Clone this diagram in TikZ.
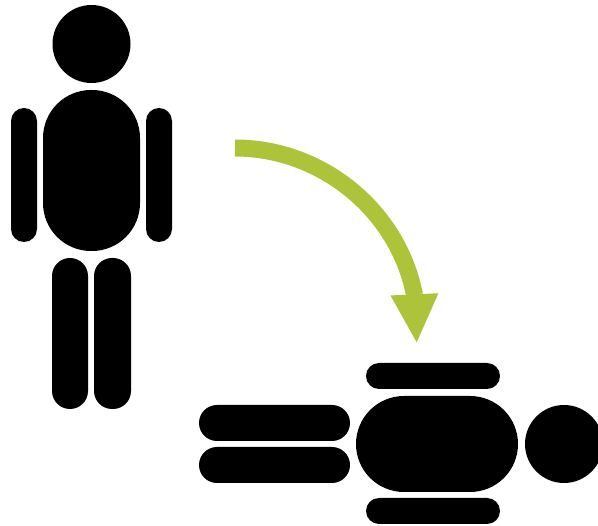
\documentclass[tikz,border=0pt]{standalone}
\usepackage{xcolor}
\usetikzlibrary{arrows.meta, positioning}
\definecolor{fallgreen}{RGB}{173,196,58}

\begin{document}
\begin{tikzpicture}[
  x=1pt, y=-1pt,
  head/.style={circle, fill=black, inner sep=0pt, minimum size=78pt},
  limb/.style={fill=black, rounded corners=#1},
  arr/.style={-{Triangle[length=48pt, width=48pt, line width=0pt]}, fallgreen, line width=17pt},
]
  \useasboundingbox (0,0) rectangle (598,526);

  % standing figure
  \node[head] (headup) at (91.5,44) {};
  \fill[limb=48pt] (43,90) rectangle (140,251);
  \fill[limb=13pt] (11,108) rectangle (37,242);
  \fill[limb=13pt] (146,108) rectangle (172,242);
  \fill[limb=18pt] (52,258) rectangle (88,409);
  \fill[limb=18pt] (94,258) rectangle (131,409);

  % lying figure
  \node[head] (headdown) at (564,444) {};
  \fill[limb=48pt] (356,396) rectangle (518,492);
  \fill[limb=13pt] (366,363) rectangle (500,389);
  \fill[limb=13pt] (366,498) rectangle (500,524);
  \fill[limb=18pt] (199,405) rectangle (350,441);
  \fill[limb=18pt] (199,447) rectangle (350,483);

  % arrow
  \coordinate (from) at (235,148);
  \coordinate (bend) at (414.5,295);
  \coordinate (to) at (416.7,342.3);
  \draw[arr] (from) .. controls (321,148) and (398,210) .. (bend) -- (to);
\end{tikzpicture}
\end{document}
